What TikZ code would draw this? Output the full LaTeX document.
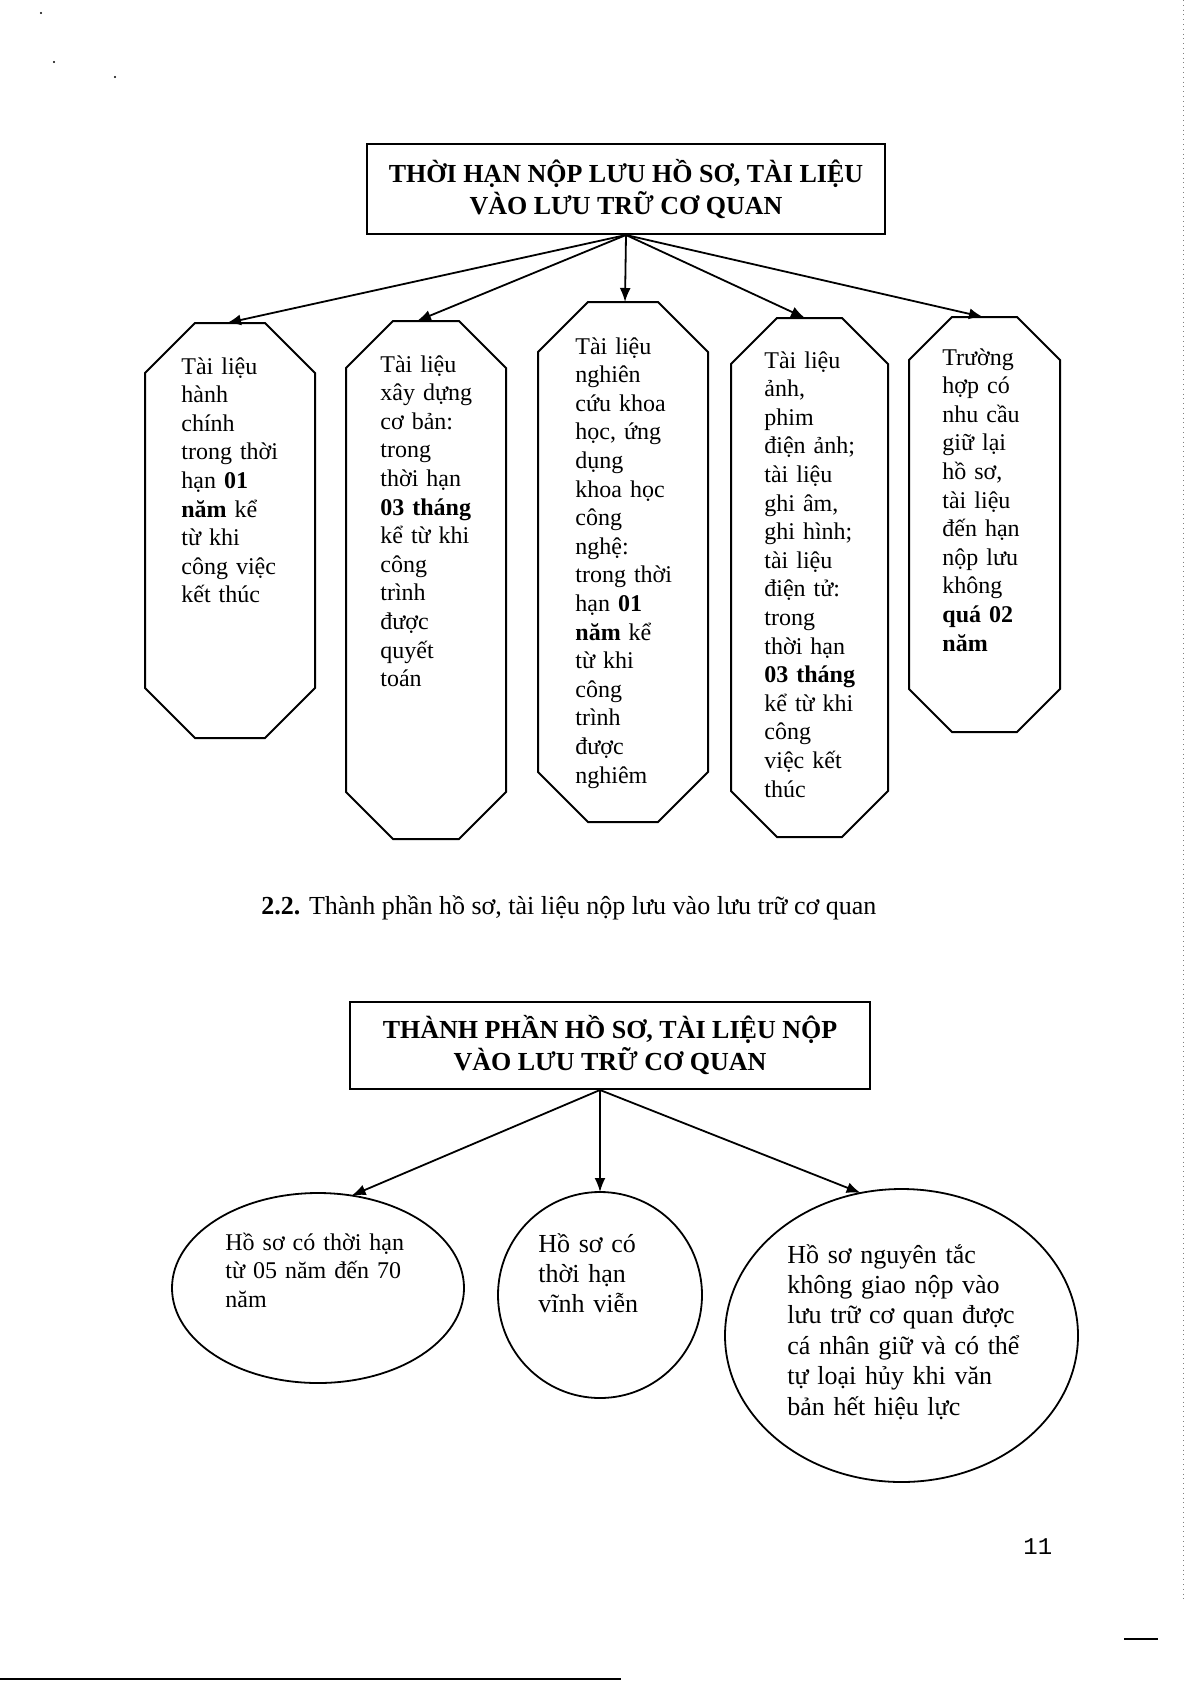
\documentclass[tikz,border=0pt]{standalone}
\usepackage{fontspec}
\setmainfont{Liberation Serif}
\newfontfamily\pagenumfont{Liberation Mono}
\usetikzlibrary{shapes.geometric, arrows.meta, calc}

\tikzset{
  octbox/.style={draw=none, rectangle, inner sep=0pt, outer sep=0pt},
  outline/.style={line width=1pt, line join=miter},
  titlebox/.style={draw, line width=1pt, rectangle, inner sep=0pt, align=center,
    font=\fontsize{13}{16}\selectfont\bfseries},
  oval/.style={draw, ellipse, line width=0.9pt, inner sep=0pt, outer sep=0pt},
  conn/.style={line width=0.9pt, -{Latex[length=7pt,width=5.5pt]}},
  octtext/.style={anchor=base west, inner sep=0pt, align=left, text width=95pt,
    font=\fontsize{12}{14.3}\selectfont},
  ovtext/.style={anchor=base west, inner sep=0pt, align=left, text width=140pt}
}

\newcommand\drawocto[2]{%
  \draw[outline] ($(#1.north west)+(#2,0)$) -- ($(#1.north east)+(-#2,0)$)
    -- ($(#1.north east)+(0,#2)$) -- ($(#1.south east)+(0,-#2)$)
    -- ($(#1.south east)+(-#2,0)$) -- ($(#1.south west)+(#2,0)$)
    -- ($(#1.south west)+(0,-#2)$) -- ($(#1.north west)+(0,#2)$) -- cycle;}

\begin{document}
\begin{tikzpicture}[x=0.5pt, y=-0.5pt]
\useasboundingbox[fill=white] (0,0) rectangle (1191,1685);

% ---------- top diagram ----------
\node[titlebox, minimum width=259pt, minimum height=45pt] (t1) at (626,189)
  {THỜI HẠN NỘP LƯU HỒ SƠ, TÀI LIỆU\\VÀO LƯU TRỮ CƠ QUAN};

\node[octbox, minimum width=85pt,   minimum height=207.5pt] (o1) at (230,530.5) {};
\node[octbox, minimum width=80pt,   minimum height=259pt]   (o2) at (426,580) {};
\node[octbox, minimum width=85pt,   minimum height=260pt]   (o3) at (623,562) {};
\node[octbox, minimum width=78.5pt, minimum height=259.5pt] (o4) at (809.5,577.5) {};
\node[octbox, minimum width=75.5pt, minimum height=207.5pt] (o5) at (984.5,524.5) {};

\drawocto{o1}{50}
\drawocto{o2}{47}
\drawocto{o3}{50}
\drawocto{o4}{46}
\drawocto{o5}{43}

\draw[conn] (t1.south) -- ([xshift=-1.5pt]o1.north);
\draw[conn] (t1.south) -- ([xshift=-4.5pt]o2.north);
\draw[conn] (t1.south) -- ([xshift=1pt]o3.north);
\draw[conn] (t1.south) -- ([xshift=-2.25pt]o4.north);
\draw[conn] (t1.south) -- ([xshift=-0.75pt]o5.north);

\node[octtext] (x1) at (181,374) {Tài liệu\\hành\\chính\\trong thời\\hạn \textbf{01}\\\textbf{năm} kể\\từ khi\\công việc\\kết thúc};
\node[octtext] (x2) at (380,372) {Tài liệu\\xây dựng\\cơ bản:\\trong\\thời hạn\\\textbf{03 tháng}\\kể từ khi\\công\\trình\\được\\quyết\\toán};
\node[octtext] (x3) at (575,354) {Tài liệu\\nghiên\\cứu khoa\\học, ứng\\dụng\\khoa học\\công\\nghệ:\\trong thời\\hạn \textbf{01}\\\textbf{năm} kể\\từ khi\\công\\trình\\được\\nghiêm};
\node[octtext] (x4) at (764,368) {Tài liệu\\ảnh,\\phim\\điện ảnh;\\tài liệu\\ghi âm,\\ghi hình;\\tài liệu\\điện tử:\\trong\\thời hạn\\\textbf{03 tháng}\\kể từ khi\\công\\việc kết\\thúc};
\node[octtext] (x5) at (942,365) {Trường\\hợp có\\nhu cầu\\giữ lại\\hồ sơ,\\tài liệu\\đến hạn\\nộp lưu\\không\\\textbf{quá 02}\\\textbf{năm}};

% ---------- heading ----------
\node[anchor=base west, inner sep=0pt, font=\fontsize{13}{15}\selectfont] (h22) at (261,914)
  {\textbf{2.2.} Thành phần hồ sơ, tài liệu nộp lưu vào lưu trữ cơ quan};

% ---------- bottom diagram ----------
\node[titlebox, minimum width=260pt, minimum height=43.5pt] (t2) at (610,1045.5)
  {THÀNH PHẦN HỒ SƠ, TÀI LIỆU NỘP\\VÀO LƯU TRỮ CƠ QUAN};

\node[oval, minimum width=146pt,   minimum height=95pt]    (e1) at (318,1288) {};
\node[oval, minimum width=102pt,   minimum height=103pt]   (e2) at (600,1295) {};
\node[oval, minimum width=176.5pt, minimum height=146.5pt] (e3) at (901.5,1335.5) {};

\draw[conn] ([xshift=-5pt]t2.south) -- (e1.70);
\draw[conn] ([xshift=-5pt]t2.south) -- (e2.north);
\draw[conn] ([xshift=-5pt]t2.south) -- (e3.106);

\node[ovtext, font=\fontsize{12}{14.25}\selectfont] (y1) at (225,1250) {Hồ sơ có thời hạn\\từ 05 năm đến 70\\năm};
\node[ovtext, font=\fontsize{13}{15}\selectfont] (y2) at (538,1252) {Hồ sơ có\\thời hạn\\vĩnh viễn};
\node[ovtext, font=\fontsize{13}{15.2}\selectfont] (y3) at (787,1263) {Hồ sơ nguyên tắc\\không giao nộp vào\\lưu trữ cơ quan được\\cá nhân giữ và có thể\\tự loại hủy khi văn\\bản hết hiệu lực};

% ---------- page marks ----------
\node[anchor=base west, inner sep=0pt, font=\pagenumfont\fontsize{12}{14}\selectfont] (pn) at (1023,1554) {11};
\coordinate (d1a) at (1124,1639);
\coordinate (d1b) at (1158,1639);
\draw[line width=0.6pt] (d1a) -- (d1b);
\coordinate (b1a) at (0,1679);
\coordinate (b1b) at (621,1679);
\draw[line width=0.7pt] (b1a) -- (b1b);
\coordinate (r1a) at (1183,0);
\coordinate (r1b) at (1183,1600);
\draw[line width=0.4pt, gray, dotted] (r1a) -- (r1b);
\fill (41,13) circle (1.2);
\fill (54,62) circle (1.2);
\fill (115,77) circle (1.2);
\end{tikzpicture}
\end{document}
